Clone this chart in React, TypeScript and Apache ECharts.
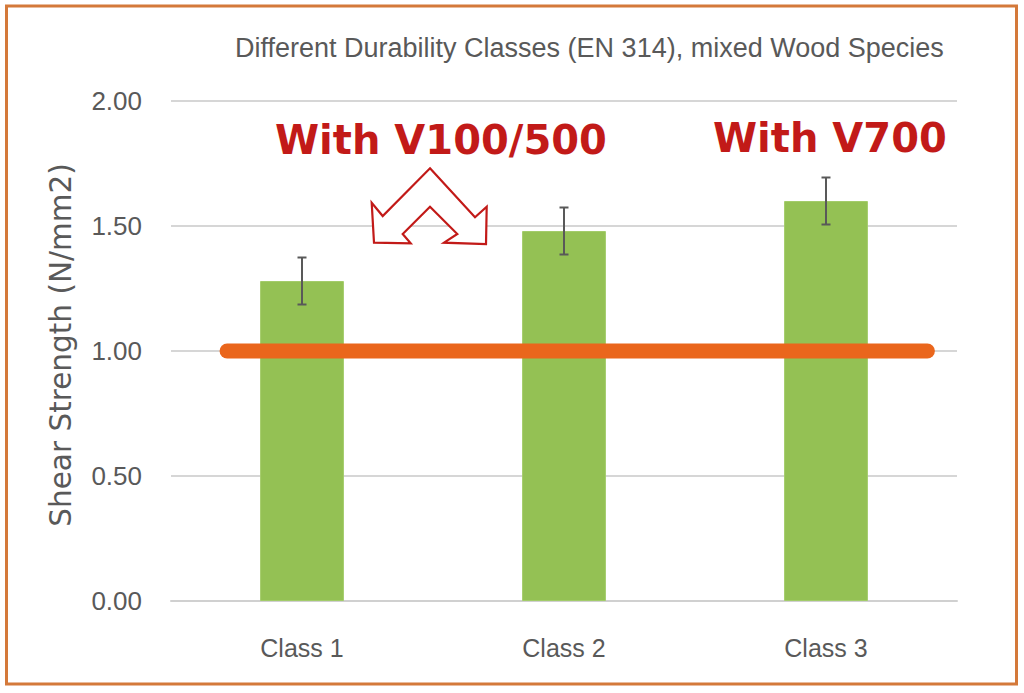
import React, { useEffect, useRef } from 'react';
import * as echarts from 'echarts';

const categories = ['Class 1', 'Class 2', 'Class 3'];
const shearStrength = [1.28, 1.48, 1.6];
const errorMargin = [0.094, 0.094, 0.094];
const yMin = 0;
const yMax = 2;
const yInterval = 0.5;
const thresholdValue = 1.0;
// start / end of the threshold line, in category widths from the left of the plot
const thresholdSpan = [0.214, 2.887];
const titleText = 'Different Durability Classes (EN 314), mixed Wood Species';
const yAxisTitle = 'Shear Strength (N/mm2)';
const annotationLeft = 'With V100/500';
const annotationRight = 'With V700';

const GRAY = '#595959';
const RED = '#C21A18';
const SANS = '"Liberation Sans", Arial, sans-serif';

export default function App() {
  const ref = useRef<HTMLDivElement>(null);
  useEffect(() => {
    if (!ref.current) return;
    const chart = echarts.init(ref.current, null, { renderer: 'svg' });
    const errData = categories.map((_, i) => [i, shearStrength[i] - errorMargin[i], shearStrength[i] + errorMargin[i]]);
    chart.setOption({
      animation: false,
      backgroundColor: '#ffffff',
      title: {
        text: titleText,
        left: 230,
        top: 29,
        textStyle: { fontFamily: SANS, fontSize: 27, fontWeight: 'normal', color: GRAY },
      },
      grid: { left: 171, right: 67, top: 101, bottom: 92 },
      xAxis: [
        {
          type: 'category',
          data: categories,
          axisLine: { show: true, lineStyle: { color: '#D0D0D0', width: 2 } },
          axisTick: { show: false },
          axisLabel: { fontFamily: SANS, fontSize: 25, color: GRAY, margin: 34 },
        },
        { type: 'value', min: 0, max: 3, show: false },
      ],
      yAxis: {
        type: 'value',
        min: yMin,
        max: yMax,
        interval: yInterval,
        name: yAxisTitle,
        nameLocation: 'middle',
        nameGap: 95,
        nameTextStyle: { fontFamily: '"DejaVu Sans", sans-serif', fontSize: 29.5, color: GRAY, padding: [0, 0, 0, 12] },
        axisLine: { show: false },
        axisTick: { show: false },
        splitLine: { lineStyle: { color: '#D6D6D6', width: 2 } },
        axisLabel: {
          fontFamily: SANS,
          fontSize: 26,
          color: GRAY,
          margin: 29,
          formatter: (v: number) => v.toFixed(2),
        },
      },
      series: [
        {
          type: 'bar',
          data: shearStrength,
          barWidth: '32%',
          itemStyle: { color: '#94C154', borderColor: '#A3CC6A', borderWidth: 1 },
          z: 2,
        },
        {
          type: 'line',
          xAxisIndex: 1,
          data: [
            [thresholdSpan[0], thresholdValue],
            [thresholdSpan[1], thresholdValue],
          ],
          symbol: 'none',
          lineStyle: { color: '#EA661C', width: 15, cap: 'round' },
          z: 3,
        },
        {
          type: 'custom',
          data: errData,
          encode: { x: 0, y: [1, 2] },
          z: 4,
          renderItem: (params: any, api: any) => {
            const x = api.value(0);
            const lo = api.coord([x, api.value(1)]);
            const hi = api.coord([x, api.value(2)]);
            const hw = 4.5;
            const style = { stroke: GRAY, lineWidth: 2 };
            return {
              type: 'group',
              children: [
                { type: 'line', shape: { x1: lo[0], y1: lo[1], x2: hi[0], y2: hi[1] }, style },
                { type: 'line', shape: { x1: hi[0] - hw, y1: hi[1], x2: hi[0] + hw, y2: hi[1] }, style },
                { type: 'line', shape: { x1: lo[0] - hw, y1: lo[1], x2: lo[0] + hw, y2: lo[1] }, style },
              ],
            };
          },
        },
      ],
      graphic: [
        {
          type: 'rect',
          shape: { x: 6.5, y: 6, width: 1010, height: 678 },
          style: { fill: 'none', stroke: '#D4793A', lineWidth: 3 },
          z: 100,
        },
        {
          type: 'text',
          x: 275,
          y: 140,
          style: {
            text: annotationLeft,
            fontFamily: '"DejaVu Sans", sans-serif',
            fontWeight: 'bold',
            fontSize: 40,
            fill: RED,
            verticalAlign: 'middle',
          },
          z: 100,
        },
        {
          type: 'text',
          x: 713,
          y: 138,
          style: {
            text: annotationRight,
            fontFamily: '"DejaVu Sans", sans-serif',
            fontWeight: 'bold',
            fontSize: 40,
            fill: RED,
            verticalAlign: 'middle',
          },
          z: 100,
        },
        {
          type: 'polygon',
          shape: {
            points: [
              [430, 168.3],
              [475, 217.3],
              [486.7, 206.7],
              [486, 244],
              [444, 242.7],
              [457.3, 234],
              [430, 206.7],
              [402.7, 234],
              [410.7, 243.3],
              [374, 242.7],
              [371.7, 202.7],
              [382.7, 216],
            ],
          },
          style: { fill: '#ffffff', stroke: RED, lineWidth: 2.2 },
          z: 100,
        },
      ],
    });
    return () => chart.dispose();
  }, []);
  return <div ref={ref} style={{ position: 'absolute', left: 0, top: 0, width: 1024, height: 693 }} />;
}
